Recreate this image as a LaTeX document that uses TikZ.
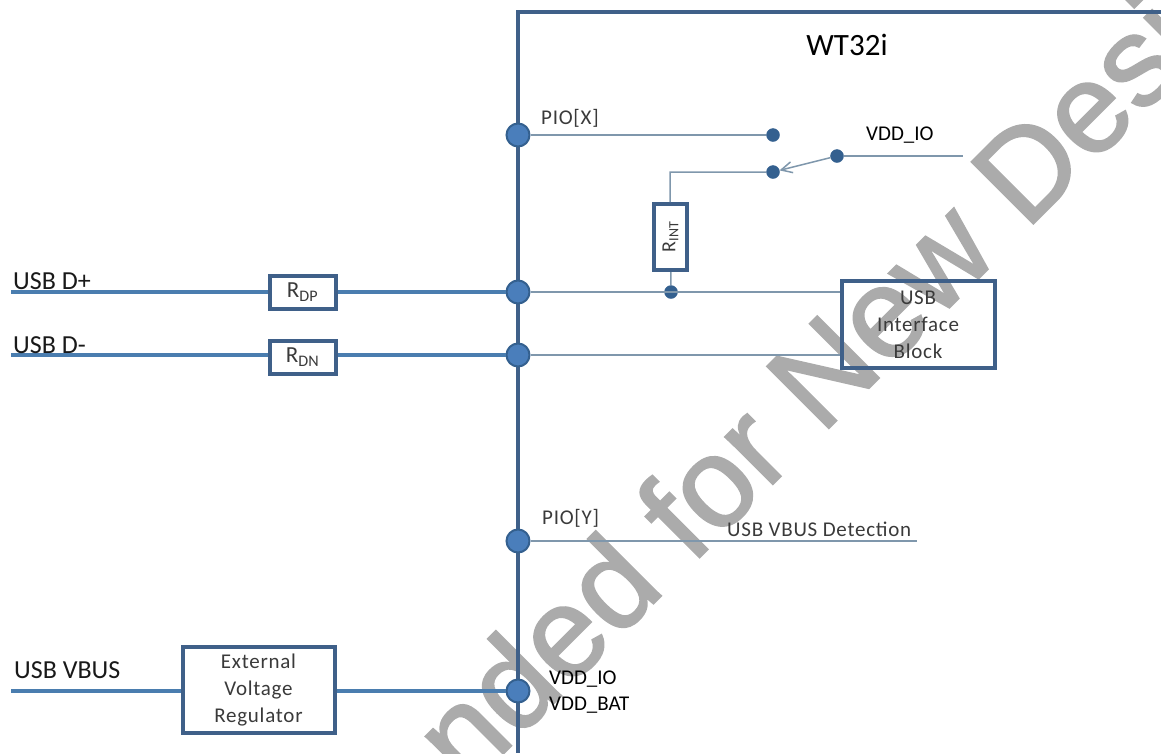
\documentclass[tikz,border=0pt]{standalone}
\usepackage{fontspec}
\setmainfont{Carlito}
\newfontfamily\markfont[FakeBold=1.6]{Liberation Sans}
\newfontfamily\wideshot[LetterSpace=3.5]{Carlito}
\usetikzlibrary{arrows.meta}
\definecolor{busblue}{HTML}{3F6089}
\definecolor{wireblue}{HTML}{4A7DAF}
\definecolor{thinblue}{HTML}{7F97AC}
\definecolor{dotfill}{HTML}{4A7EBB}
\definecolor{dotedge}{HTML}{34608F}
\definecolor{labelgray}{HTML}{3A3A3A}
\tikzset{
  bus/.style={line width=4.5pt,draw=busblue},
  wire/.style={line width=3.5pt,draw=wireblue},
  thinwire/.style={line width=1.5pt,draw=thinblue},
  bigdot/.style={circle,fill=dotfill,draw=dotedge,line width=2pt,minimum size=23pt,inner sep=0pt},
  smalldot/.style={circle,fill=dotedge,draw=dotedge,minimum size=13pt,inner sep=0pt},
  blockbox/.style={rectangle,draw=busblue,line width=4pt,align=center,inner sep=0pt,text=labelgray,
    font=\wideshot\fontsize{21}{27}\selectfont},
  resbox/.style={rectangle,draw=busblue,line width=4pt,inner sep=0pt,text=labelgray,
    font=\fontsize{23}{23}\selectfont},
  label text/.style={inner sep=0pt,text=labelgray,anchor=west,font=\wideshot\fontsize{21}{21}\selectfont},
  black text/.style={inner sep=0pt,text=black,anchor=west,font=\fontsize{21}{21}\selectfont},
  pin text/.style={inner sep=0pt,text=black!90,anchor=west,font=\fontsize{26}{26}\selectfont},
}
\begin{document}
\begin{tikzpicture}[x=1pt,y=-1pt]
  \useasboundingbox (0,0) rectangle (1161,753);
  \clip (0,0) rectangle (1161,753);
  %watermark
  \node[anchor=base west,inner sep=0pt,rotate=45,text=black!33] (mark) at (467,790)
    {\markfont\fontsize{127}{127}\selectfont nded for New Desi};
  %chip outline
  \coordinate (bustop) at (518,12);
  \coordinate (busright) at (1161,12);
  \coordinate (busbottom) at (518,753);
  \draw[bus] (busright) -- (bustop) -- (busbottom);
  \node[black text,anchor=center,font=\fontsize{31}{31}\selectfont] (chip) at (847,45) {WT32i};
  %pins
  \node[bigdot] (pinx) at (518,135) {};
  \node[bigdot] (dp) at (518,292) {};
  \node[bigdot] (dn) at (518,355) {};
  \node[bigdot] (piny) at (518,541) {};
  \node[bigdot] (pwr) at (518,691) {};
  %switch
  \node[smalldot] (swa) at (773,135) {};
  \node[smalldot] (swb) at (773,172) {};
  \node[smalldot] (swc) at (837,156) {};
  \coordinate (ioend) at (963,156);
  \coordinate (rcorner) at (670,172);
  \node[resbox,font=\fontsize{20}{20}\selectfont,minimum width=33pt,minimum height=66pt] (rint) at (670.5,237)
    {\rotatebox{90}{R\textsubscript{INT}}};
  \node[smalldot] (tap) at (671,292) {};
  \node[blockbox,minimum width=153pt,minimum height=87pt] (usbblock) at (918,324.5)
    {USB\\Interface\\Block};
  \draw[thinwire] (pinx) -- (swa);
  \draw[thinwire] (swc) -- (ioend);
  \draw[thinwire,-{Straight Barb[length=11pt,width=11pt]}] (swc) -- (swb);
  \draw[thinwire] (swb) -- (rcorner) -- (rint);
  \draw[thinwire] (rint) -- (tap);
  \draw[thinwire] (dp) -- (usbblock.west |- dp);
  \draw[thinwire] (dn) -- (usbblock.west |- dn);
  %left side
  \coordinate (dpin) at (11,292);
  \coordinate (dnin) at (11,355);
  \coordinate (vbusin) at (11,691);
  \node[resbox,minimum width=66pt,minimum height=33pt] (rdp) at (302.5,292) {R\textsubscript{DP}};
  \node[resbox,minimum width=66pt,minimum height=33pt] (rdn) at (302.5,357) {R\textsubscript{DN}};
  \node[blockbox,minimum width=152pt,minimum height=86pt] (reg) at (258.5,690)
    {External\\Voltage\\Regulator};
  \draw[wire] (dpin) -- (rdp.west |- dpin);
  \draw[wire] (rdp.east |- dp) -- (dp);
  \draw[wire] (dnin) -- (rdn.west |- dnin);
  \draw[wire] (rdn.east |- dn) -- (dn);
  \draw[wire] (vbusin) -- (reg.west |- vbusin);
  \draw[wire] (reg.east |- pwr) -- (pwr);
  \draw[thinwire] (piny) -- (917,541);
  %labels
  \node[pin text] (dplabel) at (13,281) {USB D+};
  \node[pin text] (dnlabel) at (13,345) {USB D-};
  \node[pin text] (vbuslabel) at (14,670) {USB VBUS};
  \node[label text] (pinxlabel) at (541,118) {PIO[X]};
  \node[label text] (pinylabel) at (542,518) {PIO[Y]};
  \node[label text] (detect) at (727,529) {USB VBUS Detection};
  \node[black text] (iolabel) at (866,135) {VDD\_IO};
  \node[black text] (pwrio) at (549,679) {VDD\_IO};
  \node[black text] (pwrbat) at (549,705) {VDD\_BAT};
\end{tikzpicture}
\end{document}
